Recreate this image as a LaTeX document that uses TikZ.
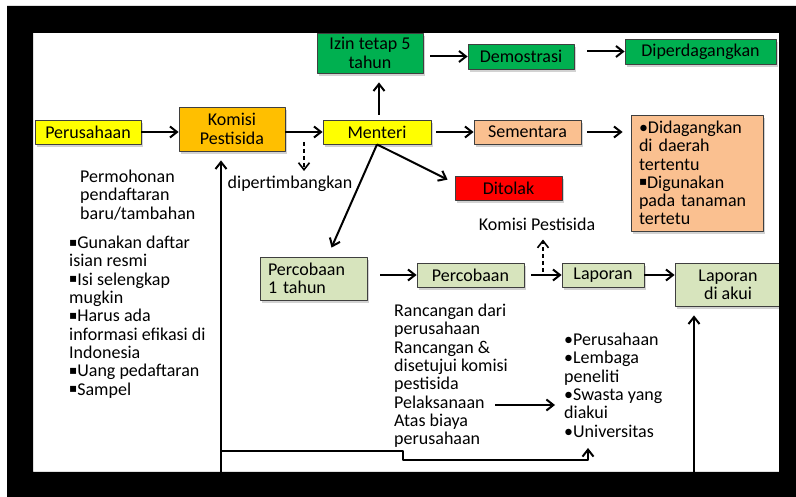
\documentclass[tikz,border=0pt]{standalone}
\usepackage{fontspec}
\setmainfont{Carlito}
\newfontfamily\symfont{DejaVu Sans}
\usetikzlibrary{positioning,arrows.meta,shadows}
\definecolor{kuning}{HTML}{FFFF00}
\definecolor{jingga}{HTML}{FFBF00}
\definecolor{hijau}{HTML}{00B050}
\definecolor{krem}{HTML}{FAC090}
\definecolor{merah}{HTML}{FF0000}
\definecolor{hijaumuda}{HTML}{D7E4BD}
\definecolor{garis}{HTML}{3F3F3F}
\newcommand{\sqb}{\raisebox{2.5bp}{\symfont\fontsize{12bp}{12bp}\selectfont ▪}}

\begin{document}
\begin{tikzpicture}[>={Straight Barb[length=7bp,width=11bp]},line join=bevel,
  box/.style={draw=garis,line width=0.8bp,inner sep=0pt,minimum height=24bp,align=center,
    drop shadow={opacity=0.35,shadow xshift=2bp,shadow yshift=-3bp}},
  arr/.style={->,line width=2bp},
  darr/.style={->,line width=1.6bp,dash pattern=on 4bp off 3bp},
  txt/.style={inner sep=0pt,align=left,anchor=north west},
  font=\fontsize{18bp}{18.3bp}\selectfont]
\useasboundingbox (0bp,0bp) rectangle (796bp,497bp);
\fill [white] (0bp,0bp) rectangle (796bp,497bp);
%%
\node (perusahaan) at (88bp,365bp) [box,fill=kuning,minimum width=106bp] {Perusahaan};
  \node (komisi) at (232bp,368bp) [box,fill=jingga,minimum width=106bp,minimum height=44bp] {Komisi\\Pestisida};
  \node (menteri) at (377bp,365bp) [box,fill=kuning,minimum width=108bp] {Menteri};
  \node (izin) at (370bp,444bp) [box,fill=hijau,minimum width=106bp,minimum height=40bp] {Izin tetap 5\\tahun};
  \node (demostrasi) at (521bp,440.5bp) [box,fill=hijau,minimum width=106bp,minimum height=25bp] {Demostrasi};
  \node (diperdagangkan) at (700.5bp,445.5bp) [box,fill=hijau,minimum width=151bp,minimum height=25bp] {Diperdagangkan};
  \node (sementara) at (527.5bp,365bp) [box,fill=krem,minimum width=107bp] {Sementara};
  \node (daerah) at (697bp,324bp) [box,fill=krem,minimum width=132bp,minimum height=116bp,text width=116bp,align=left] {•Didagangkan\\di daerah\\tertentu\\\sqb Digunakan\\pada tanaman\\tertetu};
  \node (ditolak) at (508.5bp,309bp) [box,fill=merah,minimum width=107bp] {Ditolak};
  \node (komtext) at (537bp,273bp) [inner sep=0pt] {Komisi Pestisida};
  \node (percobaan1) at (313.5bp,218.5bp) [box,fill=hijaumuda,minimum width=107bp,minimum height=43bp,text width=91bp,align=left] {Percobaan\\1 tahun};
  \node (percobaan) at (470.5bp,222bp) [box,fill=hijaumuda,minimum width=107bp] {Percobaan};
  \node (laporan) at (603bp,222bp) [box,fill=hijaumuda,minimum width=82bp] {Laporan};
  \node (laporanakui) at (728bp,212.5bp) [box,fill=hijaumuda,minimum width=106bp,minimum height=43bp] {Laporan\\di akui};
%
\node (pertimbang) at (290bp,313bp) [inner sep=0pt] {dipertimbangkan};
  \node (permohonan) at (80bp,327bp) [txt] {Permohonan\\pendaftaran\\baru/tambahan};
  \node (syarat) at (69bp,261bp) [txt] {\sqb Gunakan daftar\\isian resmi\\\sqb Isi selengkap\\mugkin\\\sqb Harus ada\\informasi efikasi di\\Indonesia\\\sqb Uang pedaftaran\\\sqb Sampel};
  \node (rancangan) at (394bp,193bp) [txt] {Rancangan dari\\perusahaan\\Rancangan \&\\disetujui komisi\\pestisida\\Pelaksanaan\\Atas biaya\\perusahaan};
  \node (lembaga) at (564bp,164bp) [txt] {•Perusahaan\\•Lembaga\\peneliti\\•Swasta yang\\diakui\\•Universitas};
%
\coordinate (d1) at (304bp,355bp);
  \coordinate (d2) at (543bp,225bp);
  \coordinate (b1) at (221bp,25bp);
  \coordinate (b2) at (694bp,25bp);
  \coordinate (k1) at (221bp,46bp);
  \coordinate (u1) at (588bp,49bp);
  \coordinate (p1) at (495bp,92bp);
%
\draw [arr] (perusahaan.east) -- (perusahaan.east -| komisi.west);
  \draw [arr] (menteri.west -| komisi.east) -- (menteri.west);
  \draw [arr,shorten <=5bp,shorten >=9bp] ([xshift=2bp]menteri.north) -- ([xshift=2bp]menteri.north |- izin.south);
  \draw [arr,shorten <=7bp] (izin.east |- demostrasi.west) -- (demostrasi.west);
  \draw [arr,shorten <=13bp] (diperdagangkan.west -| demostrasi.east) -- (diperdagangkan.west);
  \draw [arr,shorten <=5bp] (menteri.east) -- (sementara.west);
  \draw [arr,shorten <=6bp,shorten >=8bp] (sementara.east) -- (sementara.east -| daerah.west);
  \draw [arr] (menteri.south) -- ([shift={(-7bp,-4bp)}]ditolak.north west);
  \draw [arr] (menteri.south) -- ([shift={(18bp,9bp)}]percobaan1.north);
  \draw [darr,shorten >=5bp] (d1) -- (d1 |- pertimbang.north);
  \draw [arr,shorten <=13bp] (percobaan.west -| percobaan1.east) -- (percobaan.west);
  \draw [arr,shorten <=7bp] (percobaan.east) -- (laporan.west);
  \draw [darr,shorten >=9bp] (d2) -- (d2 |- komtext.south);
  \draw [arr] (laporan.east) -- (laporan.east -| laporanakui.west);
  \draw [arr,shorten >=9bp] (b1) -- (b1 |- komisi.south);
  \draw [arr] (k1) -- (403bp,46bp) -- (403bp,37bp) -| (u1);
  \draw [arr,shorten >=9bp] (b2) -- (b2 |- laporanakui.south);
  \draw [arr,shorten >=9bp] (p1) -- (p1 -| lembaga.west);
%
\fill [black,even odd rule] (7bp,0bp) rectangle (796bp,491bp) (33bp,25bp) rectangle (779bp,464bp);
\end{tikzpicture}
\end{document}
